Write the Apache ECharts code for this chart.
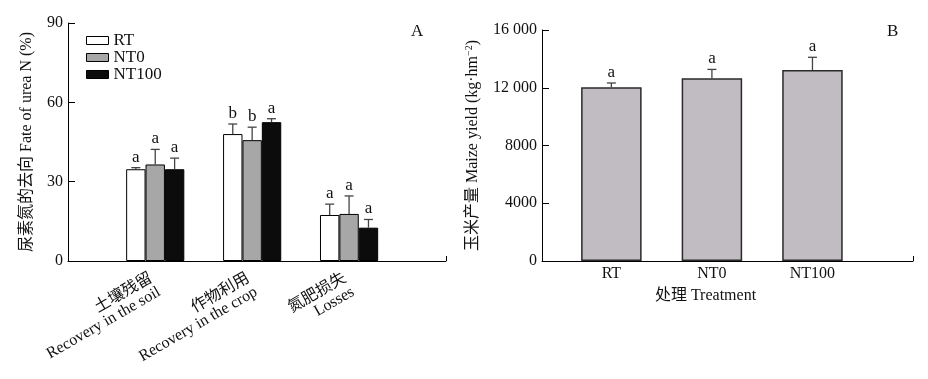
<!DOCTYPE html>
<html>
<head>
<meta charset="utf-8">
<script src="https://cdn.jsdelivr.net/npm/echarts@6/dist/echarts.min.js"></script>
<style>html,body{margin:0;padding:0;background:#fff}#c{width:928px;height:379px}</style>
</head>
<body>
<div id="c"></div>
<script>
// ---- data ----
const groups = ['土壤残留\nRecovery in the soil', '作物利用\nRecovery in the crop', '氮肥损失\nLosses'];
const treatments = ['RT', 'NT0', 'NT100'];
const fateRT = [34.7, 48.0, 17.4];
const fateRTErr = [0.6, 3.8, 4.1];
const fateRTLetters = ['a', 'b', 'a'];
const fateNT0 = [36.5, 45.7, 17.8];
const fateNT0Err = [5.7, 4.9, 6.8];
const fateNT0Letters = ['a', 'b', 'a'];
const fateNT100 = [34.7, 52.5, 12.6];
const fateNT100Err = [4.2, 1.3, 3.1];
const fateNT100Letters = ['a', 'a', 'a'];
const yieldVals = [12030, 12650, 13230];
const yieldErr = [300, 620, 880];
const yieldLetters = ['a', 'a', 'a'];
const fateTicks = [0, 30, 60, 90];
const yieldTicks = [0, 4000, 8000, 12000, 16000];

const FONT = "'Liberation Serif', 'Times New Roman', 'Noto Sans CJK SC', serif";
const chart = echarts.init(document.getElementById('c'));

const fateSets = [
  { name: 'RT', vals: fateRT, err: fateRTErr, letters: fateRTLetters, color: '#ffffff' },
  { name: 'NT0', vals: fateNT0, err: fateNT0Err, letters: fateNT0Letters, color: '#a7a7a7' },
  { name: 'NT100', vals: fateNT100, err: fateNT100Err, letters: fateNT100Letters, color: '#0c0c0c' }
];

function errRender(letters) {
  return function (params, api) {
    const x = api.value(0), y = api.value(1), e = api.value(2);
    const p0 = api.coord([x, y]);
    const p1 = api.coord([x, y + e]);
    const cap = 4.5;
    const st = { stroke: '#444', lineWidth: 1.3 };
    return {
      type: 'group',
      children: [
        { type: 'line', shape: { x1: p0[0], y1: p0[1], x2: p1[0], y2: p1[1] }, style: st },
        { type: 'line', shape: { x1: p1[0] - cap, y1: p1[1], x2: p1[0] + cap, y2: p1[1] }, style: st },
        { type: 'text', x: p1[0], y: p1[1] - 2, style: { text: letters[params.dataIndex], font: '17px ' + FONT, fill: '#111', align: 'center', verticalAlign: 'bottom' } }
      ]
    };
  };
}

const series = [];
fateSets.forEach(function (s, t) {
  const off = (t - 1) * 0.2;
  const d = s.vals.map(function (v, g) { return [g + 1 + off, v]; });
  series.push({
    name: s.name, type: 'bar', xAxisIndex: 0, yAxisIndex: 0,
    data: d, barWidth: 19.4, barGap: '-100%',
    itemStyle: { color: s.color, borderColor: '#000', borderWidth: 1 },
    emphasis: { disabled: true }, z: 2
  });
  series.push({
    type: 'custom', xAxisIndex: 0, yAxisIndex: 0,
    data: s.vals.map(function (v, g) { return [g + 1 + off, v, s.err[g]]; }),
    renderItem: errRender(s.letters), z: 3, silent: true
  });
});
series.push({
  name: 'yield', type: 'bar', xAxisIndex: 1, yAxisIndex: 1,
  data: yieldVals.map(function (v, i) { return [i + 1, v]; }), barWidth: 60.5,
  itemStyle: { color: '#c0bcc1', borderColor: '#2a2a2a', borderWidth: 1.5 },
  emphasis: { disabled: true }, z: 2
});
series.push({
  type: 'custom', xAxisIndex: 1, yAxisIndex: 1,
  data: yieldVals.map(function (v, i) { return [i + 1, v, yieldErr[i]]; }),
  renderItem: errRender(yieldLetters), z: 3, silent: true
});

const axisLineStyle = { lineStyle: { color: '#000', width: 1 } };

chart.setOption({
  animation: false,
  backgroundColor: '#fff',
  textStyle: { fontFamily: FONT },
  title: [
    { text: 'A', left: 411, top: 23, padding: 0, textStyle: { fontFamily: FONT, fontSize: 17, fontWeight: 'normal', color: '#111' } },
    { text: 'B', left: 887, top: 23, padding: 0, textStyle: { fontFamily: FONT, fontSize: 17, fontWeight: 'normal', color: '#111' } }
  ],
  legend: {
    data: treatments.map(function (n, i) {
      return { name: n, itemStyle: { color: fateSets[i].color, borderColor: '#000', borderWidth: 1 } };
    }),
    orient: 'vertical', left: 86, top: 32, padding: 0,
    itemWidth: 22, itemHeight: 8, itemGap: 0, icon: 'rect',
    textStyle: { fontFamily: FONT, fontSize: 17, color: '#111', lineHeight: 14, padding: [0, 0, 0, 0] },
    selectedMode: false
  },
  grid: [
    { left: 68, right: 482, top: 23, bottom: 118 },
    { left: 542, right: 15, top: 30, bottom: 118 }
  ],
  xAxis: [
    {
      type: 'value', gridIndex: 0, min: 0.1, max: 4,
      axisLine: axisLineStyle, splitLine: { show: false },
      axisTick: { inside: true, length: 5, lineStyle: { color: '#000' }, customValues: [1, 2, 3, 4] },
      axisLabel: {
        customValues: [1, 2, 3], rotate: 30, margin: 23, fontSize: 16, lineHeight: 16,
        color: '#111', fontFamily: FONT,
        formatter: function (v) { return groups[Math.round(v) - 1] || ''; }
      }
    },
    {
      type: 'value', gridIndex: 1, min: 0.31, max: 4,
      axisLine: axisLineStyle, splitLine: { show: false },
      axisTick: { inside: true, length: 5, lineStyle: { color: '#000' }, customValues: [1, 2, 3, 4] },
      axisLabel: {
        customValues: [1, 2, 3], margin: 5, fontSize: 16, color: '#111', fontFamily: FONT,
        formatter: function (v) { return treatments[Math.round(v) - 1] || ''; }
      },
      name: '处理 Treatment', nameLocation: 'middle', nameGap: 27,
      nameTextStyle: { fontSize: 16, color: '#111', fontFamily: FONT, padding: [0, 44, 0, 0] }
    }
  ],
  yAxis: [
    {
      type: 'value', gridIndex: 0, min: fateTicks[0], max: fateTicks[fateTicks.length - 1], interval: 30,
      axisLine: { show: true, lineStyle: { color: '#000', width: 1 } },
      axisTick: { show: true, inside: true, length: 7, lineStyle: { color: '#000' } },
      splitLine: { show: false },
      axisLabel: { margin: 5, fontSize: 16, color: '#111', fontFamily: FONT },
      name: '尿素氮的去向 Fate of urea N (%)', nameLocation: 'middle', nameGap: 33, nameRotate: 90,
      nameTextStyle: { fontSize: 16, color: '#111', fontFamily: FONT }
    },
    {
      type: 'value', gridIndex: 1, min: yieldTicks[0], max: yieldTicks[yieldTicks.length - 1], interval: 4000,
      axisLine: { show: true, lineStyle: { color: '#000', width: 1 } },
      axisTick: { show: true, inside: true, length: 7, lineStyle: { color: '#000' } },
      splitLine: { show: false },
      axisLabel: {
        margin: 5, fontSize: 16, color: '#111', fontFamily: FONT,
        formatter: function (v) { return v >= 10000 ? String(v).replace(/(\d{2})(\d{3})$/, '$1 $2') : String(v); }
      },
      name: '玉米产量 Maize yield (kg·hm{sup|−2})', nameLocation: 'middle', nameGap: 60, nameRotate: 90,
      nameTextStyle: {
        fontSize: 16, color: '#111', fontFamily: FONT,
        rich: { sup: { fontSize: 10, verticalAlign: 'top', padding: [0, 0, 8, 0], fontFamily: FONT, color: '#111' } }
      }
    }
  ],
  series: series
});
</script>
</body>
</html>
